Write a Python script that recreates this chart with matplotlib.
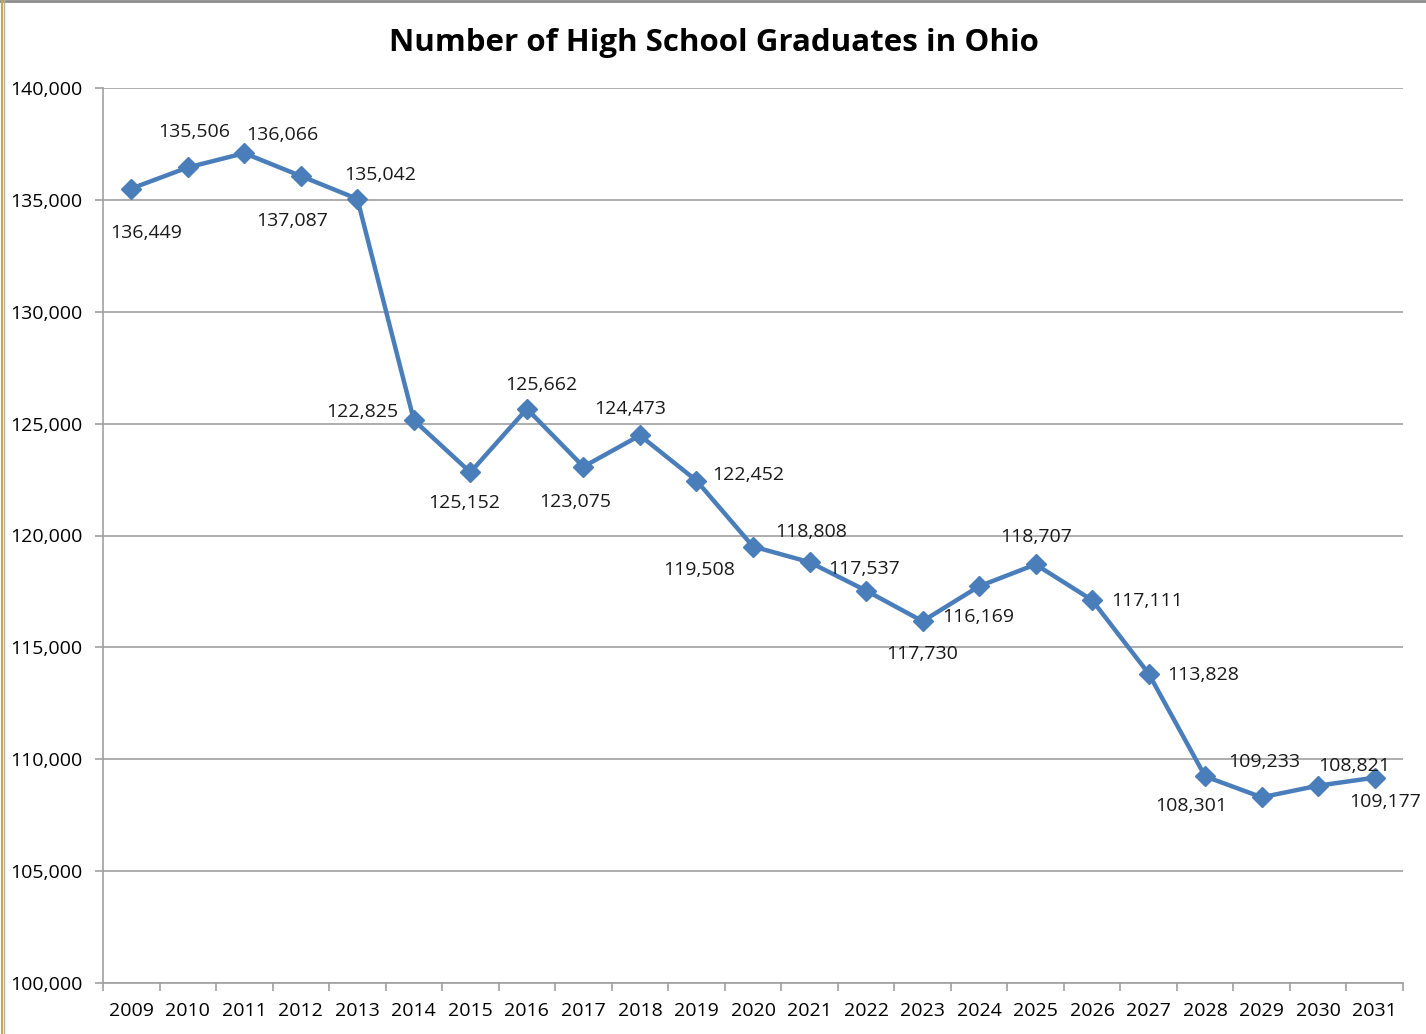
import matplotlib
matplotlib.use("Agg")
import matplotlib.pyplot as plt
from matplotlib.lines import Line2D

years = [str(y) for y in range(2009, 2032)]
graduates = [135506, 136449, 137087, 136066, 135042, 125152, 122825, 125662,
             123075, 124473, 122452, 119508, 118808, 117537, 116169, 117730,
             118707, 117111, 113828, 109233, 108301, 108821, 109177]
# data label text shown next to each point (as in the reference)
point_labels = ["136,449", "135,506", "136,066", "137,087", "135,042", "122,825",
                "125,152", "125,662", "123,075", "124,473", "122,452", "119,508",
                "118,808", "117,537", "117,730", "116,169", "118,707", "117,111",
                "113,828", "108,301", "109,233", "108,821", "109,177"]
y_ticks = [100000, 105000, 110000, 115000, 120000, 125000, 130000, 135000, 140000]

# label offsets in pixels (dx, dy with dy up)
label_offsets = [(15, -44), (6, 35), (38, 18), (-9, -45), (23, 24), (-52, 8),
                 (-6, -31), (14, 24), (-8, -35), (-10, 26), (52, 6), (-54, -23),
                 (2, 30), (-2, 22), (0, -33), (-1, -31), (1, 27), (55, -1),
                 (54, -1), (-14, -30), (2, 35), (36, 20), (10, -24)]

FONT = "Open Sans"
line_color = "#4A7EBB"
grid_color = "#A0A0A0"
FS = 14

fig = plt.figure(figsize=(14.26, 10.34), dpi=100)
ax = fig.add_axes([103 / 1426, 1 - 983 / 1034, 1300 / 1426, 895 / 1034])

x = list(range(len(years)))
ax.plot(x, graduates, color=line_color, lw=3.2, marker="D", ms=10,
        markerfacecolor=line_color, markeredgecolor=line_color, zorder=3,
        clip_on=False)

for xi, yi, lab, (dx, dy) in zip(x, graduates, point_labels, label_offsets):
    ax.annotate(lab, (xi, yi), xytext=(dx, dy), textcoords="offset pixels",
                ha="center", va="center", fontsize=FS, family=FONT,
                color="#1a1a1a", zorder=4)

ax.set_xlim(-0.5, len(years) - 0.5)
ax.set_ylim(100000, 140000)
ax.set_yticks(y_ticks)
ax.set_yticklabels([f"{v:,}" for v in y_ticks], family=FONT, fontsize=FS)
ax.set_xticks(x)
ax.set_xticklabels(years, family=FONT, fontsize=FS)
ax.set_xticks([i - 0.5 for i in range(len(years) + 1)], minor=True)
ax.tick_params(axis="x", which="major", length=0, pad=14)
ax.tick_params(axis="x", which="minor", length=6, color=grid_color, width=1.2)
ax.tick_params(axis="y", length=6, color=grid_color, width=1.2, pad=9)
ax.grid(axis="y", color=grid_color, lw=1.2)
ax.set_axisbelow(True)
for s in ["top", "right"]:
    ax.spines[s].set_visible(False)
for s in ["left", "bottom"]:
    ax.spines[s].set_color(grid_color)
    ax.spines[s].set_linewidth(1.2)

fig.text(714 / 1426, 1 - 43 / 1034, "Number of High School Graduates in Ohio",
         ha="center", va="center", fontsize=22.5, fontweight="bold", family=FONT)

# chart border
fig.add_artist(Line2D([0, 1], [0.999, 0.999], transform=fig.transFigure,
                      color="#8C8C8C", lw=2))
fig.add_artist(Line2D([0.0012, 0.0012], [0, 1], transform=fig.transFigure,
                      color="#C9A84C", lw=1.5))
fig.add_artist(Line2D([0.0028, 0.0028], [0, 1], transform=fig.transFigure,
                      color="#B0B0B0", lw=1))

fig.savefig("out.png", dpi=100)
